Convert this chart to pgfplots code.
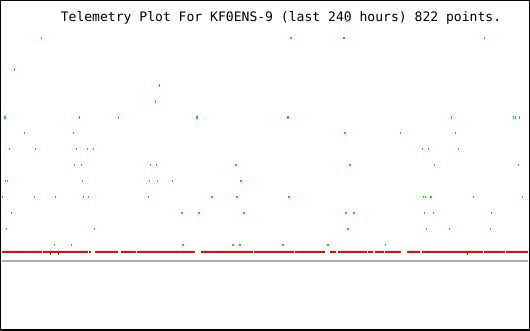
\documentclass[border=0pt]{standalone}
\usepackage{pgfplots}
\pgfplotsset{compat=1.18}
\usepackage{fontspec}
\newfontfamily\monofont{DejaVu Sans Mono}
\definecolor{telegreen}{RGB}{0,235,0}
\definecolor{telegray}{RGB}{170,170,170}
\begin{document}
\begin{tikzpicture}
\begin{axis}[
  scale only axis,
  width=530bp, height=330bp,
  xmin=0, xmax=530, ymin=0, ymax=330,
  y dir=reverse,
  xtick=\empty, ytick=\empty,
  axis line style={line width=1.5bp, black},
  unbounded coords=jump,
]
% gray baseline
\addplot[telegray, line width=2bp] coordinates {(1,261) (529,261)};
% red dense series (segments)
\addplot[red, line width=2.2bp] coordinates {
(1,251.7) (41,251.7) (nan,nan)
(42,251.7) (87,251.7) (nan,nan)
(88,251.7) (91,251.7) (nan,nan)
(95,251.7) (118,251.7) (nan,nan)
(121,251.7) (136,251.7) (nan,nan)
(137,251.7) (195,251.7) (nan,nan)
(201,251.7) (253,251.7) (nan,nan)
(254,251.7) (294,251.7) (nan,nan)
(295,251.7) (325,251.7) (nan,nan)
(330,251.7) (336,251.7) (nan,nan)
(338,251.7) (367,251.7) (nan,nan)
(368,251.7) (373,251.7) (nan,nan)
(375,251.7) (384,251.7) (nan,nan)
(385,251.7) (401,251.7) (nan,nan)
(407,251.7) (420,251.7) (nan,nan)
(422,251.7) (484,251.7) (nan,nan)
(485,251.7) (506,251.7) (nan,nan)
(507,251.7) (529,251.7)
};
\addplot[red, only marks, mark=|, mark size=1.5bp, line width=1bp] coordinates {(50,253) (58,253) (468,253)};
% green scattered series
\addplot[telegreen, only marks, mark=|, mark size=1.1bp, line width=1.5bp] coordinates {
(347,20)
(41,37) (291,37) (344,37) (485,37)
(14,69)
(159,85)
(155,101)
(4,117) (5,117) (79,117) (118,117) (197,117) (288,117) (452,117) (514,117) (516,117) (520,117)
(24,133) (73,133) (345,133) (401,133) (456,133)
(9,149) (35,149) (76,149) (87,149) (93,149) (423,149) (429,149) (459,149)
(74,165) (81,165) (150,165) (156,165) (236,165) (350,165) (435,165) (519,165)
(5,181) (7,181) (82,181) (149,181) (157,181) (172,181) (241,181)
(2,197) (34,197) (55,197) (83,197) (88,197) (148,197) (212,197) (237,197) (289,197) (424,197) (426,197) (431,197) (432,197) (474,197) (523,197)
(11,213) (182,213) (199,213) (244,213) (346,213) (354,213) (425,213) (434,213) (492,213)
(6,229) (94,229) (348,229) (427,229) (450,229) (491,229)
(54,245) (71,245) (183,245) (233,245) (240,245) (283,245) (328,245) (386,245)
};
\node[anchor=base west, inner sep=0pt, font=\monofont\fontsize{13.1bp}{15bp}\selectfont] at (axis cs:60,21) {Telemetry Plot For KF0ENS-9 (last 240 hours) 822 points.};
\end{axis}
\end{tikzpicture}
\end{document}
